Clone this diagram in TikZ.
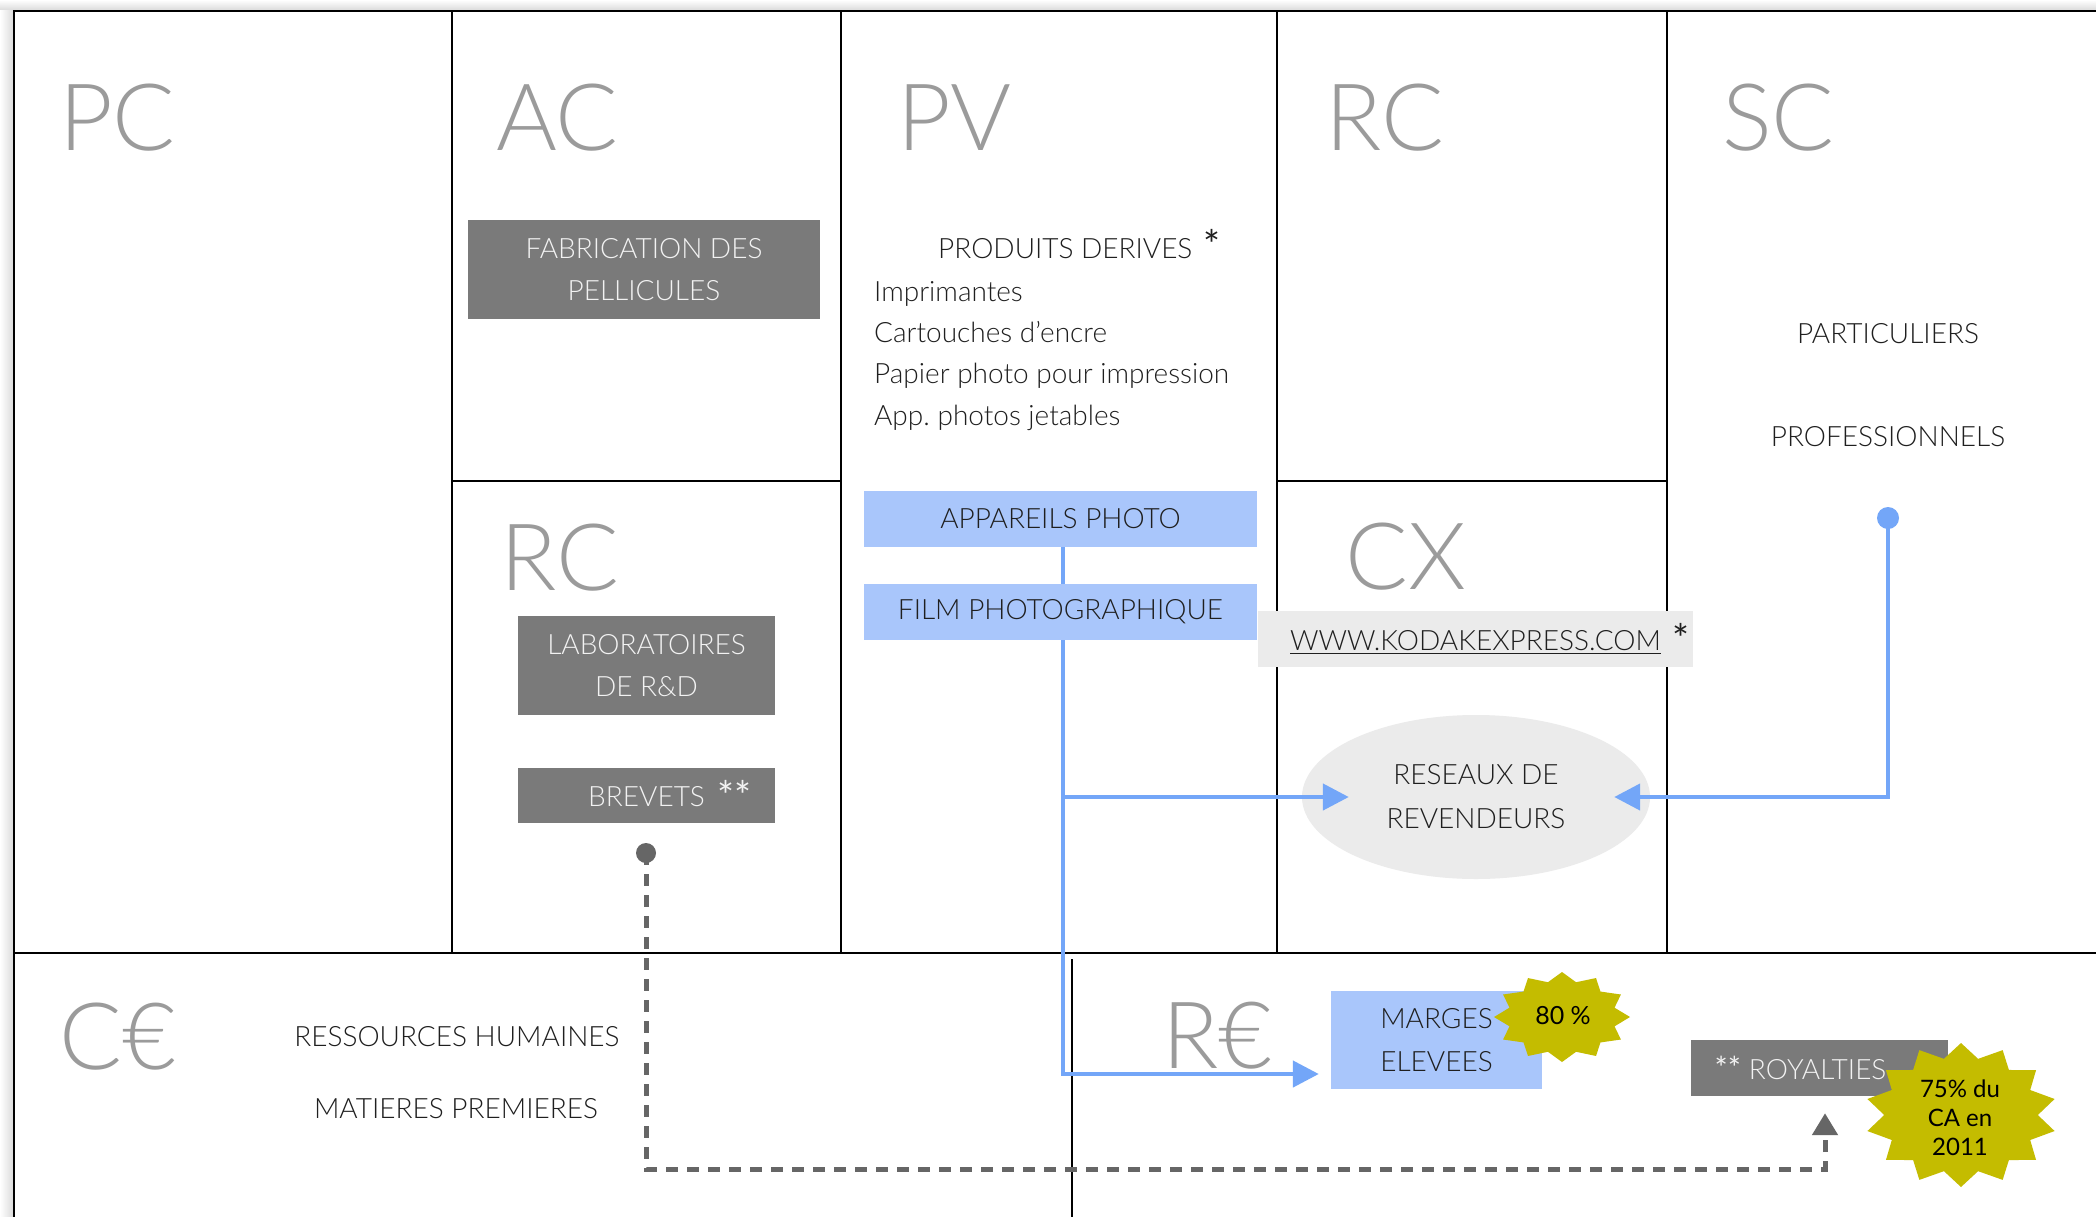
\documentclass[tikz,border=0pt]{standalone}
\usepackage{fontspec}
\usetikzlibrary{arrows.meta,shapes.geometric}
\IfFontExistsTF{Lato Light}{\setmainfont{Lato Light}}{\setmainfont{Lato}}
\newfontfamily\regfont{Lato}

\definecolor{titlegray}{HTML}{9B9B9B}
\definecolor{boxgray}{HTML}{7A7A7A}
\definecolor{boxtext}{HTML}{F2F2F2}
\definecolor{paleblue}{HTML}{A9C6FB}
\definecolor{linkblue}{HTML}{73A6F8}
\definecolor{softgray}{HTML}{EBEBEB}
\definecolor{dashgray}{HTML}{666666}
\definecolor{burst}{RGB}{196,188,0}

% underlined text with a rule placed just under the baseline
\newsavebox\ulbox
\newcommand\urlline[1]{\sbox\ulbox{#1}\rlap{\rule[-3.5pt]{\wd\ulbox}{1.6pt}}\usebox\ulbox}
% footnote-like stars set a little larger than the text
\newcommand\notemark[2]{\raisebox{#1}{\regfont\fontsize{40}{40}\selectfont #2}}

\tikzset{
  gridline/.style={line width=2.6pt, black},
  blocktitle/.style={anchor=base west, inner sep=0pt, text=titlegray,
    font=\fontsize{93}{100}\selectfont},
  plain/.style={inner sep=0pt, text=black!88, font=\fontsize{28}{42}\selectfont},
  graybox/.style={fill=boxgray, text=boxtext, inner sep=0pt, align=center,
    font=\fontsize{28}{42}\selectfont},
  bluebox/.style={fill=paleblue, text=black!88, inner sep=0pt, align=center,
    font=\fontsize{28}{43}\selectfont},
  softbox/.style={fill=softgray, text=black!88, inner sep=0pt, align=center,
    font=\fontsize{28}{44}\selectfont},
  bluelink/.style={draw=linkblue, line width=4.5pt,
    -{Triangle[length=26pt,width=26pt]}},
  graylink/.style={draw=dashgray, line width=5pt, dash pattern=on 12pt off 9pt,
    -{Triangle[length=22pt,width=25pt]}},
  bursttext/.style={inner sep=0pt, text=black, align=center,
    font=\regfont\fontsize{25}{29}\selectfont},
}

\begin{document}
\begin{tikzpicture}[x=1pt,y=-1pt]
\useasboundingbox (0,0) rectangle (2096,1216);
\fill[white] (0,0) rectangle (2096,1216);

% soft shadow along the top and left edges of the canvas
\shade[top color=white, bottom color=black!14] (0,0) rectangle (2096,10);
\shade[left color=white, right color=black!14] (0,10) rectangle (13,1216);

% canvas grid
\draw[gridline] (14,1220) -- (14,11) -- (2100,11);
\draw[gridline] (14,953) -- (2100,953);
\foreach \gx in {452,841,1277,1667} \draw[gridline] (\gx,11) -- (\gx,953);
\draw[gridline] (452,481) -- (841,481);
\draw[gridline] (1277,481) -- (1667,481);
\draw[line width=2pt, black] (1072,959) -- (1072,1220);

% block titles
\node[blocktitle] (tpc) at (59,150) {PC};
\node[blocktitle] (tac) at (496,150) {AC};
\node[blocktitle] (tpv) at (897,150) {PV};
\node[blocktitle] (trc) at (1325,150) {RC};
\node[blocktitle] (tsc) at (1722,150) {SC};
\node[blocktitle] (trr) at (500,590) {RC};
\node[blocktitle] (tcx) at (1345,589) {CX};
\node[blocktitle] (tce) at (59,1069) {C€};
\node[blocktitle] (tre) at (1162,1068) {R€};

% key activities and resources
\node[graybox, minimum width=352pt, minimum height=99pt] (fab) at (644,269.5)
  {FABRICATION DES\\PELLICULES};
\node[graybox, minimum width=257pt, minimum height=99pt] (lab) at (646.5,665.5)
  {LABORATOIRES\\DE R\&D};
\node[graybox, minimum width=257pt, minimum height=55pt] (brev) at (646.5,795.5)
  {BREVETS\rlap{\hspace{13pt}\notemark{-4pt}{**}}};

% value proposition
\node[plain, anchor=base west] (prod) at (938,258)
  {PRODUITS DERIVES\rlap{\hspace{11pt}\notemark{-1pt}{*}}};
\node[plain, anchor=base west] (impr) at (874,301) {Imprimantes};
\node[plain, anchor=base west] (cart) at (874,342) {Cartouches d’encre};
\node[plain, anchor=base west] (papi) at (874,383) {Papier photo pour impression};
\node[plain, anchor=base west] (jeta) at (874,425) {App.\ photos jetables};
\node[bluebox, minimum width=393pt, minimum height=56pt] (app) at (1060.5,519)
  {APPAREILS PHOTO};

% customer segments
\node[plain, anchor=base] (part) at (1888,343) {PARTICULIERS};
\node[plain, anchor=base] (prof) at (1888,446) {PROFESSIONNELS};
\node[circle, fill=linkblue, minimum size=22pt, inner sep=0pt] (bdot) at (1888,518) {};

% channels
\node[softbox, ellipse, minimum width=348pt, minimum height=164pt] (ell) at (1476,797)
  {RESEAUX DE\\REVENDEURS};

% cost structure
\node[plain, anchor=base] (rh) at (457,1046) {RESSOURCES HUMAINES};
\node[plain, anchor=base] (mp) at (456,1118) {MATIERES PREMIERES};

% revenue streams
\node[bluebox, minimum width=211pt, minimum height=98pt] (marg) at (1436.5,1040)
  {MARGES\\ELEVEES};
\node[graybox, minimum width=257pt, minimum height=56pt] (roy) at (1819.5,1068)
  {\kern-38pt{\regfont\fontsize{31}{31}\selectfont **}\hspace{8pt}ROYALTIES};
\node[circle, fill=dashgray, minimum size=20pt, inner sep=0pt] (gdot) at (646,853) {};

% connectors
\coordinate (split) at (1063,797);
\coordinate (turn) at (1063,1074);
\coordinate (dashbase) at (0,1169);
\draw[bluelink, shorten >=12pt] ([xshift=2.5pt]app.south) -- (turn) -- (turn -| marg.west);
\draw[bluelink] (split) -- ([xshift=47pt]ell.west);
\draw[bluelink] (bdot.center) |- ([xshift=-36pt]ell.east);
\draw[graylink] (gdot.center) -- (gdot.center |- dashbase)
  -| ([xshift=5.5pt,yshift=-17pt]roy.south);

% boxes lying over the connectors and the grid
\node[bluebox, minimum width=393pt, minimum height=56pt] (film) at (1060.5,612)
  {FILM PHOTOGRAPHIQUE};
\node[softbox, minimum width=435pt, minimum height=56pt] (url) at (1475.5,639)
  {\urlline{WWW.KODAKEXPRESS.COM}\rlap{\hspace{12pt}\notemark{-3pt}{*}}};

% starbursts
\fill[burst] plot[domain=0:23, samples=24, variable=\k]
  ({1562+68*(1-0.2*mod(round(\k),2))*cos(90+15*\k)},
   {1017-45*(1-0.2*mod(round(\k),2))*sin(90+15*\k)}) -- cycle;
\fill[burst] plot[domain=0:27, samples=28, variable=\k]
  ({1961+96*(1-0.2*mod(round(\k),2))*cos(90+12.857*\k)},
   {1115-72*(1-0.2*mod(round(\k),2))*sin(90+12.857*\k)}) -- cycle;
\node[bursttext, anchor=base] (p80) at (1563,1024) {80 \%};
\node[bursttext, font=\regfont\fontsize{24}{29}\selectfont] (p75) at (1960,1117.5)
  {75\% du\\CA en\\2011};
\end{tikzpicture}
\end{document}
